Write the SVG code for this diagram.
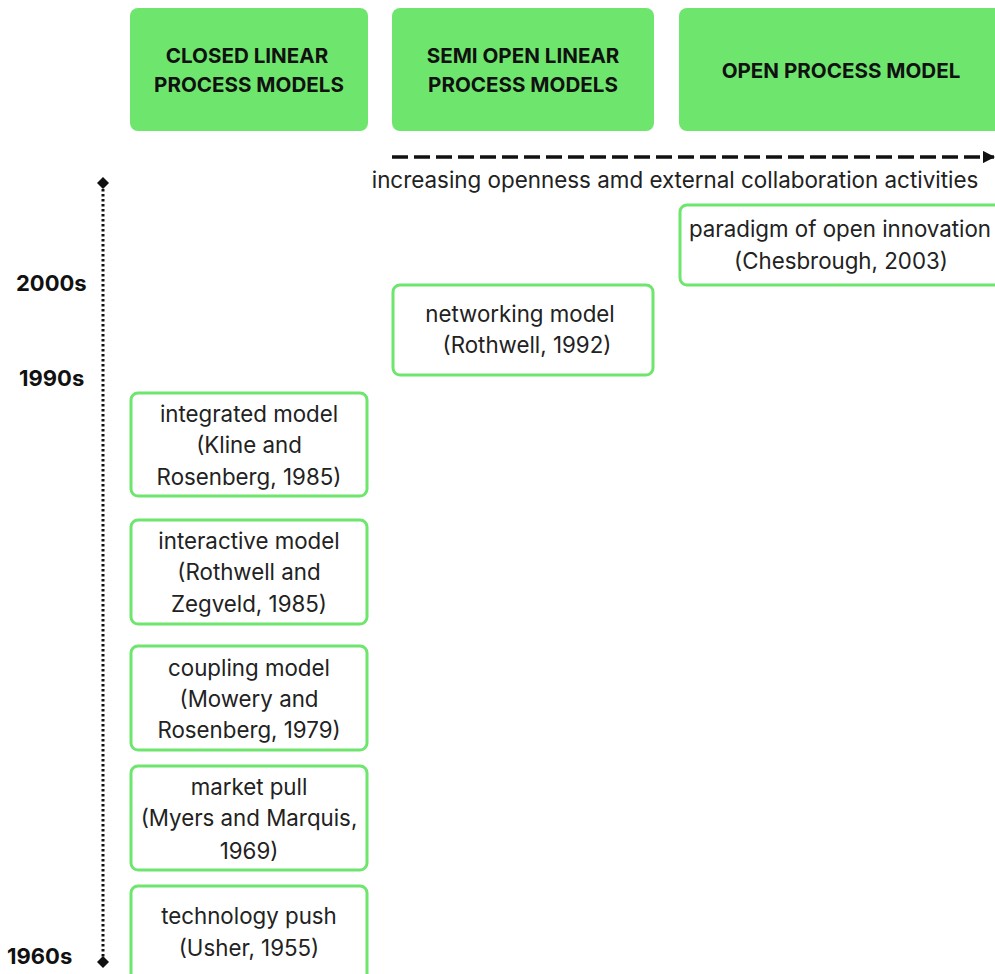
<svg xmlns="http://www.w3.org/2000/svg" width="995" height="974" viewBox="0 0 995 974">
  <style>
    .hdr { fill: #6ee66e; }
    .box { fill: #ffffff; stroke: #6ee66e; stroke-width: 3; }
    .ht { font-family: Inter, "Liberation Sans", sans-serif; font-size: 20.6px; font-weight: 700; fill: #111111; text-anchor: middle; }
    .bt { font-family: Inter, "Liberation Sans", sans-serif; font-size: 22.3px; fill: #222222; text-anchor: middle; }
    .yr { font-family: Inter, "Liberation Sans", sans-serif; font-size: 22px; font-weight: 700; fill: #111111; }
    .cap { font-family: Inter, "Liberation Sans", sans-serif; font-size: 22.4px; fill: #222222; text-anchor: middle; }
  </style>
  <defs>
    <marker id="arrow" viewBox="0 0 10 10" refX="9" refY="5" markerWidth="3.5" markerHeight="3.5" orient="auto">
      <path d="M0,0 L10,5 L0,10 z" fill="#111111"/>
    </marker>
  </defs>
  <rect width="995" height="974" fill="#ffffff"/>

  <!-- column headers -->
  <g id="hdr-closed">
    <rect class="hdr" x="130" y="8" width="238" height="123" rx="8"/>
    <text class="ht" x="247" y="63">CLOSED LINEAR</text>
    <text class="ht" x="249" y="92">PROCESS MODELS</text>
  </g>
  <g id="hdr-semi">
    <rect class="hdr" x="392" y="8" width="262" height="123" rx="8"/>
    <text class="ht" x="523" y="63">SEMI OPEN LINEAR</text>
    <text class="ht" x="523" y="92">PROCESS MODELS</text>
  </g>
  <g id="hdr-open">
    <rect class="hdr" x="679" y="8" width="330" height="123" rx="8"/>
    <text class="ht" x="841" y="78">OPEN PROCESS MODEL</text>
  </g>

  <!-- connectors: openness axis and timeline -->
  <g id="connectors">
    <line x1="392" y1="157" x2="994" y2="157" stroke="#111111" stroke-width="3.5" stroke-dasharray="16 6" marker-end="url(#arrow)"/>
    <line x1="103" y1="184" x2="103" y2="962" stroke="#111111" stroke-width="3" stroke-dasharray="2.5 2.5"/>
    <path d="M103,177 L109,183 L103,189 L97,183 z" fill="#111111"/>
    <path d="M103,956 L109,962 L103,968 L97,962 z" fill="#111111"/>
  </g>

  <g id="axis-label">
    <text class="cap" x="675" y="188">increasing openness amd external collaboration activities</text>
  </g>

  <!-- decade labels -->
  <g id="years">
    <text class="yr" x="16" y="291">2000s</text>
    <text class="yr" x="19" y="386">1990s</text>
    <text class="yr" x="7" y="964">1960s</text>
  </g>

  <!-- model boxes -->
  <g id="open-innovation">
    <rect class="box" x="680" y="205" width="330" height="80" rx="7"/>
    <text class="bt" x="840" y="237">paradigm of open innovation</text>
    <text class="bt" x="841" y="269">(Chesbrough, 2003)</text>
  </g>
  <g id="networking">
    <rect class="box" x="393" y="285" width="260" height="90" rx="7"/>
    <text class="bt" x="520" y="322">networking model</text>
    <text class="bt" x="527" y="353">(Rothwell, 1992)</text>
  </g>
  <g id="integrated">
    <rect class="box" x="131" y="393" width="236" height="103" rx="7"/>
    <text class="bt" x="249" y="422">integrated model</text>
    <text class="bt" x="249" y="453">(Kline and</text>
    <text class="bt" x="249" y="485">Rosenberg, 1985)</text>
  </g>
  <g id="interactive">
    <rect class="box" x="131" y="520" width="236" height="104" rx="7"/>
    <text class="bt" x="249" y="549">interactive model</text>
    <text class="bt" x="249" y="580">(Rothwell and</text>
    <text class="bt" x="249" y="612">Zegveld, 1985)</text>
  </g>
  <g id="coupling">
    <rect class="box" x="131" y="646" width="236" height="104" rx="7"/>
    <text class="bt" x="249" y="676">coupling model</text>
    <text class="bt" x="249" y="707">(Mowery and</text>
    <text class="bt" x="249" y="738">Rosenberg, 1979)</text>
  </g>
  <g id="market-pull">
    <rect class="box" x="131" y="766" width="236" height="104" rx="7"/>
    <text class="bt" x="249" y="795">market pull</text>
    <text class="bt" x="249" y="826">(Myers and Marquis,</text>
    <text class="bt" x="249" y="859">1969)</text>
  </g>
  <g id="technology-push">
    <rect class="box" x="131" y="886" width="236" height="104" rx="7"/>
    <text class="bt" x="249" y="924">technology push</text>
    <text class="bt" x="249" y="956">(Usher, 1955)</text>
  </g>
</svg>
